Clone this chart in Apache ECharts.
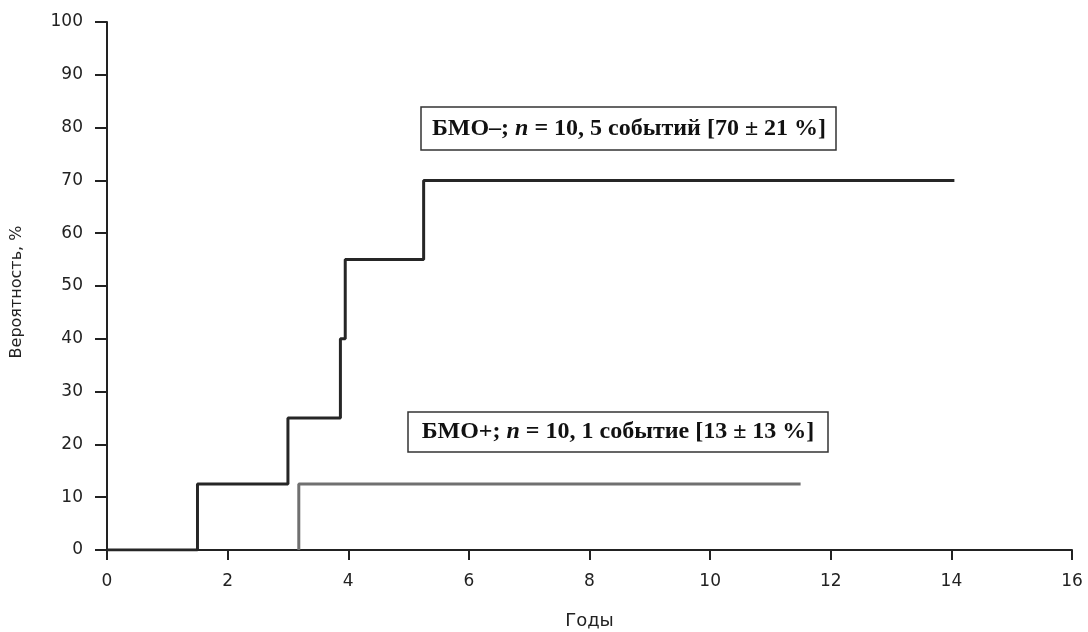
<!DOCTYPE html>
<html>
<head>
<meta charset="utf-8">
<script src="https://cdn.jsdelivr.net/npm/echarts@6/dist/echarts.min.js"></script>
<style>
html, body { margin: 0; padding: 0; background: #fff; }
#chart { width: 1088px; height: 632px; }
</style>
</head>
<body>
<div id="chart"></div>
<script>
// step curves: time in years, cumulative probability in %
var minusYears  = [0, 1.5, 3.0, 3.87, 3.95, 5.25, 14.05];
var minusValues = [0, 12.5, 25, 40, 55, 70, 70];
var plusYears   = [3.18, 3.18, 11.5];
var plusValues  = [0, 12.5, 12.5];
var minusLabel = 'БМО–; ';
var minusRest  = ' = 10, 5 событий [70 ± 21 %]';
var plusLabel  = 'БМО+; ';
var plusRest   = ' = 10, 1 событие [13 ± 13 %]';

function pairs(xs, ys) {
    return xs.map(function (x, i) { return [x, ys[i]]; });
}

var myChart = echarts.init(document.getElementById('chart'));

var axisFont = { fontFamily: 'DejaVu Sans', fontSize: 17, color: '#222' };
var boxText = {
    b: { fontFamily: 'Liberation Serif', fontWeight: 'bold', fontSize: 24, fill: '#111' },
    i: { fontFamily: 'Liberation Serif', fontWeight: 'bold', fontStyle: 'italic', fontSize: 24, fill: '#111' }
};

option = {
    animation: false,
    grid: { left: 107, right: 16, top: 22, bottom: 82, outerBoundsMode: 'none' },
    xAxis: {
        type: 'value',
        min: 0, max: 16, interval: 2,
        name: 'Годы',
        nameLocation: 'middle',
        nameGap: 62,
        nameTextStyle: { fontFamily: 'DejaVu Sans', fontSize: 18, color: '#222' },
        axisLine: { lineStyle: { color: '#222', width: 2 } },
        axisTick: { length: 10, lineStyle: { color: '#222', width: 2 } },
        axisLabel: Object.assign({ margin: 23 }, axisFont),
        splitLine: { show: false }
    },
    yAxis: {
        type: 'value',
        min: 0, max: 100, interval: 10,
        name: 'Вероятность, %',
        nameLocation: 'middle',
        nameGap: 82,
        nameTextStyle: { fontFamily: 'DejaVu Sans', fontSize: 16, color: '#222', padding: [0, 12, 0, 0] },
        axisLine: { show: true, lineStyle: { color: '#222', width: 2 } },
        axisTick: { show: true, length: 12, lineStyle: { color: '#222', width: 2 } },
        axisLabel: Object.assign({ margin: 24 }, axisFont),
        splitLine: { show: false }
    },
    series: [
        {
            type: 'line',
            step: 'end',
            symbol: 'none',
            data: pairs(plusYears, plusValues),
            lineStyle: { color: '#707070', width: 3 },
            z: 3
        },
        {
            type: 'line',
            step: 'end',
            symbol: 'none',
            data: pairs(minusYears, minusValues),
            lineStyle: { color: '#262626', width: 3 },
            z: 4
        }
    ],
    graphic: [
        {
            type: 'rect',
            shape: { x: 421, y: 107, width: 415, height: 43 },
            style: { fill: '#fff', stroke: '#333', lineWidth: 1.5 }
        },
        {
            type: 'text',
            x: 629, y: 129,
            style: {
                text: '{b|' + minusLabel + '}{i|n}{b|' + minusRest + '}',
                rich: boxText,
                align: 'center', verticalAlign: 'middle'
            }
        },
        {
            type: 'rect',
            shape: { x: 408, y: 412, width: 420, height: 40 },
            style: { fill: '#fff', stroke: '#333', lineWidth: 1.5 }
        },
        {
            type: 'text',
            x: 618, y: 432,
            style: {
                text: '{b|' + plusLabel + '}{i|n}{b|' + plusRest + '}',
                rich: boxText,
                align: 'center', verticalAlign: 'middle'
            }
        }
    ]
};

myChart.setOption(option);
</script>
</body>
</html>
